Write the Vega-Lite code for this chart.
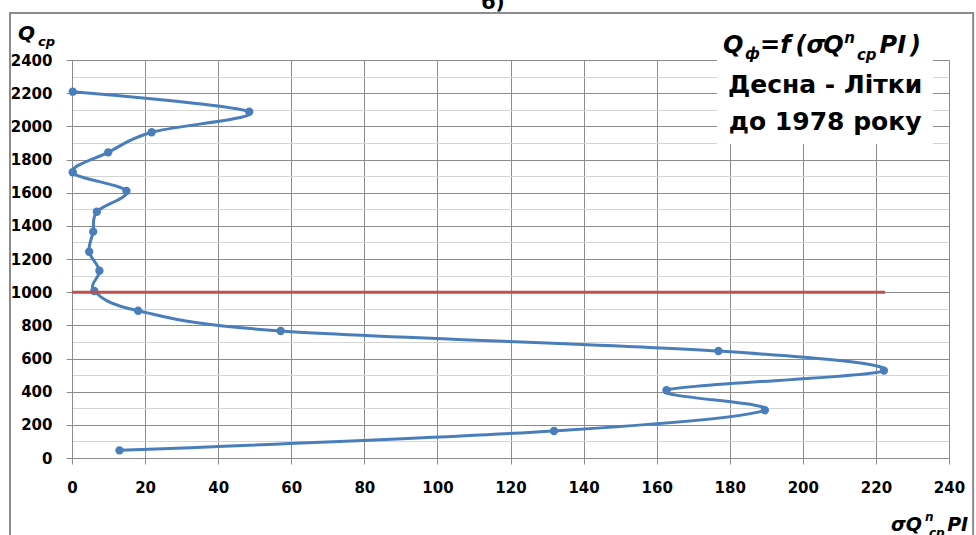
{
  "$schema": "https://vega.github.io/schema/vega-lite/v6.json",
  "width": 877,
  "height": 398,
  "autosize": {"type": "none"},
  "padding": {"left": 72, "top": 60, "right": 27, "bottom": 77},
  "background": "white",
  "resolve": {"axis": {"x": "independent", "y": "independent"}},
  "config": {
    "view": {"stroke": null},
    "axis": {
      "labelFont": "DejaVu Sans",
      "labelFontWeight": "bold",
      "labelFontSize": 15,
      "labelColor": "#000000",
      "labelBound": false,
      "labelFlush": false,
      "domainColor": "#8c8c8c",
      "tickColor": "#8c8c8c",
      "tickSize": 6,
      "gridColor": "#8c8c8c",
      "gridOpacity": 1
    }
  },
  "datasets": {
    "pts": [
      {"i": 1, "x": 0.2, "q": 2209},
      {"i": 2, "x": 48.5, "q": 2088},
      {"i": 3, "x": 21.8, "q": 1964},
      {"i": 4, "x": 9.9, "q": 1843},
      {"i": 5, "x": 0.2, "q": 1723},
      {"i": 6, "x": 14.9, "q": 1610},
      {"i": 7, "x": 6.8, "q": 1485},
      {"i": 8, "x": 5.8, "q": 1365},
      {"i": 9, "x": 4.7, "q": 1244},
      {"i": 10, "x": 7.5, "q": 1129},
      {"i": 11, "x": 6.1, "q": 1007},
      {"i": 12, "x": 18.1, "q": 888},
      {"i": 13, "x": 57.1, "q": 766},
      {"i": 14, "x": 176.9, "q": 645},
      {"i": 15, "x": 222.2, "q": 527},
      {"i": 16, "x": 162.7, "q": 409},
      {"i": 17, "x": 189.6, "q": 288},
      {"i": 18, "x": 131.9, "q": 163},
      {"i": 19, "x": 13.0, "q": 46}
    ],
    "red": [
      {"x": 0, "q": 1000},
      {"x": 222.5, "q": 1000}
    ]
  },
  "data": {"values": [{}]},
  "layer": [
    {
      "data": {"name": "pts"},
      "mark": {"type": "line", "color": "#4a7ebb", "strokeWidth": 3, "interpolate": "cardinal", "point": {"filled": true, "size": 70, "color": "#4a7ebb"}},
      "encoding": {
        "x": {"field": "x", "type": "quantitative", "scale": {"domain": [0, 240], "nice": false, "zero": false},
              "axis": {"title": null, "values": [0,20,40,60,80,100,120,140,160,180,200,220,240], "labelPadding": 16, "labelOverlap": false, "grid": true}},
        "y": {"field": "q", "type": "quantitative", "scale": {"domain": [0, 2400], "nice": false},
              "axis": {"title": null, "values": [0,100,200,300,400,500,600,700,800,900,1000,1100,1200,1300,1400,1500,1600,1700,1800,1900,2000,2100,2200,2300,2400],
                       "format": "d",
                       "labelOverlap": false,
                       "labelExpr": "datum.value % 200 === 0 ? datum.label : ''",
                       "gridColor": {"condition": {"test": "datum.value % 200 === 0", "value": "#8c8c8c"}, "value": "#d4d4d4"},
                       "tickOpacity": {"condition": {"test": "datum.value % 200 === 0", "value": 1}, "value": 0},
                       "labelPadding": 14, "grid": true}},
        "order": {"field": "i", "type": "quantitative"}
      }
    },
    {
      "data": {"name": "red"},
      "mark": {"type": "line", "color": "#c0504d", "strokeWidth": 3},
      "encoding": {
        "x": {"field": "x", "type": "quantitative", "axis": null},
        "y": {"field": "q", "type": "quantitative", "axis": null}
      }
    },
    {
      "mark": {"type": "rect", "fill": "transparent", "stroke": "#8c8c8c", "strokeWidth": 2},
      "encoding": {
        "x": {"datum": -16.97, "type": "quantitative", "axis": null},
        "x2": {"datum": 246.6},
        "y": {"datum": 2683.5, "type": "quantitative", "axis": null},
        "y2": {"datum": -530}
      }
    },
    {
      "mark": {"type": "rect", "fill": "white", "stroke": null},
      "encoding": {
        "x": {"datum": 176.5, "type": "quantitative", "axis": null},
        "x2": {"datum": 235.6},
        "y": {"datum": 1893.5, "type": "quantitative", "axis": null},
        "y2": {"datum": 2605}
      }
    },
    {
      "mark": {"type": "text", "text": "б)", "font": "DejaVu Sans", "fontWeight": "bold", "fontSize": 20, "align": "center", "baseline": "alphabetic", "color": "#000"},
      "encoding": {"x": {"datum": 115.2, "type": "quantitative", "axis": null}, "y": {"datum": 2707.6, "type": "quantitative", "axis": null}}
    },
    {
      "mark": {"type": "text", "text": "Q", "font": "DejaVu Sans", "fontWeight": "bold", "fontStyle": "italic", "fontSize": 20, "align": "left", "baseline": "alphabetic", "color": "#000"},
      "encoding": {"x": {"datum": -14.78, "type": "quantitative", "axis": null}, "y": {"datum": 2520.7, "type": "quantitative", "axis": null}}
    },
    {
      "mark": {"type": "text", "text": "ср", "font": "DejaVu Sans", "fontWeight": "bold", "fontStyle": "italic", "fontSize": 13, "align": "left", "baseline": "alphabetic", "color": "#000"},
      "encoding": {"x": {"datum": -9.3, "type": "quantitative", "axis": null}, "y": {"datum": 2484.5, "type": "quantitative", "axis": null}}
    },
    {
      "mark": {"type": "text", "text": "Десна - Літки", "font": "DejaVu Sans", "fontWeight": "bold", "fontSize": 25, "align": "center", "baseline": "alphabetic", "color": "#000"},
      "encoding": {"x": {"datum": 206.1, "type": "quantitative", "axis": null}, "y": {"datum": 2201, "type": "quantitative", "axis": null}}
    },
    {
      "mark": {"type": "text", "text": "до 1978 року", "font": "DejaVu Sans", "fontWeight": "bold", "fontSize": 25, "align": "center", "baseline": "alphabetic", "color": "#000"},
      "encoding": {"x": {"datum": 206.1, "type": "quantitative", "axis": null}, "y": {"datum": 1978, "type": "quantitative", "axis": null}}
    },
    {
      "mark": {"type": "text", "text": "Q", "font": "DejaVu Sans", "fontWeight": "bold", "fontStyle": "italic", "fontSize": 24, "align": "left", "baseline": "alphabetic", "color": "#000"},
      "encoding": {"x": {"datum": 178.16, "type": "quantitative", "axis": null}, "y": {"datum": 2442.3, "type": "quantitative", "axis": null}}
    },
    {
      "mark": {"type": "text", "text": "ф", "font": "DejaVu Sans", "fontWeight": "bold", "fontStyle": "italic", "fontSize": 15, "align": "left", "baseline": "alphabetic", "color": "#000"},
      "encoding": {"x": {"datum": 184.18, "type": "quantitative", "axis": null}, "y": {"datum": 2406, "type": "quantitative", "axis": null}}
    },
    {
      "mark": {"type": "text", "text": "=f", "font": "DejaVu Sans", "fontWeight": "bold", "fontStyle": "italic", "fontSize": 24, "align": "left", "baseline": "alphabetic", "color": "#000"},
      "encoding": {"x": {"datum": 188.29, "type": "quantitative", "axis": null}, "y": {"datum": 2442.3, "type": "quantitative", "axis": null}}
    },
    {
      "mark": {"type": "text", "text": "(σ", "font": "DejaVu Sans", "fontWeight": "bold", "fontStyle": "italic", "fontSize": 24, "align": "left", "baseline": "alphabetic", "color": "#000"},
      "encoding": {"x": {"datum": 198.0, "type": "quantitative", "axis": null}, "y": {"datum": 2442.3, "type": "quantitative", "axis": null}}
    },
    {
      "mark": {"type": "text", "text": "Q", "font": "DejaVu Sans", "fontWeight": "bold", "fontStyle": "italic", "fontSize": 24, "align": "left", "baseline": "alphabetic", "color": "#000"},
      "encoding": {"x": {"datum": 205.6, "type": "quantitative", "axis": null}, "y": {"datum": 2442.3, "type": "quantitative", "axis": null}}
    },
    {
      "mark": {"type": "text", "text": "n", "font": "DejaVu Sans", "fontWeight": "bold", "fontStyle": "italic", "fontSize": 15, "align": "left", "baseline": "alphabetic", "color": "#000"},
      "encoding": {"x": {"datum": 211.3, "type": "quantitative", "axis": null}, "y": {"datum": 2505, "type": "quantitative", "axis": null}}
    },
    {
      "mark": {"type": "text", "text": "ср", "font": "DejaVu Sans", "fontWeight": "bold", "fontStyle": "italic", "fontSize": 15, "align": "left", "baseline": "alphabetic", "color": "#000"},
      "encoding": {"x": {"datum": 214.8, "type": "quantitative", "axis": null}, "y": {"datum": 2400, "type": "quantitative", "axis": null}}
    },
    {
      "mark": {"type": "text", "text": "PI", "font": "DejaVu Sans", "fontWeight": "bold", "fontStyle": "italic", "fontSize": 24, "align": "left", "baseline": "alphabetic", "color": "#000"},
      "encoding": {"x": {"datum": 221.0, "type": "quantitative", "axis": null}, "y": {"datum": 2442.3, "type": "quantitative", "axis": null}}
    },
    {
      "mark": {"type": "text", "text": ")", "font": "DejaVu Sans", "fontWeight": "bold", "fontStyle": "italic", "fontSize": 24, "align": "left", "baseline": "alphabetic", "color": "#000"},
      "encoding": {"x": {"datum": 229.3, "type": "quantitative", "axis": null}, "y": {"datum": 2442.3, "type": "quantitative", "axis": null}}
    },
    {
      "mark": {"type": "text", "text": "σQ", "font": "DejaVu Sans", "fontWeight": "bold", "fontStyle": "italic", "fontSize": 19, "align": "left", "baseline": "alphabetic", "color": "#000"},
      "encoding": {"x": {"datum": 224.1, "type": "quantitative", "axis": null}, "y": {"datum": -440.2, "type": "quantitative", "axis": null}}
    },
    {
      "mark": {"type": "text", "text": "n", "font": "DejaVu Sans", "fontWeight": "bold", "fontStyle": "italic", "fontSize": 12, "align": "left", "baseline": "alphabetic", "color": "#000"},
      "encoding": {"x": {"datum": 233.4, "type": "quantitative", "axis": null}, "y": {"datum": -379.9, "type": "quantitative", "axis": null}}
    },
    {
      "mark": {"type": "text", "text": "ср", "font": "DejaVu Sans", "fontWeight": "bold", "fontStyle": "italic", "fontSize": 12, "align": "left", "baseline": "alphabetic", "color": "#000"},
      "encoding": {"x": {"datum": 234.5, "type": "quantitative", "axis": null}, "y": {"datum": -476.4, "type": "quantitative", "axis": null}}
    },
    {
      "mark": {"type": "text", "text": "PI", "font": "DejaVu Sans", "fontWeight": "bold", "fontStyle": "italic", "fontSize": 19, "align": "left", "baseline": "alphabetic", "color": "#000"},
      "encoding": {"x": {"datum": 239.5, "type": "quantitative", "axis": null}, "y": {"datum": -440.2, "type": "quantitative", "axis": null}}
    }
  ]
}
